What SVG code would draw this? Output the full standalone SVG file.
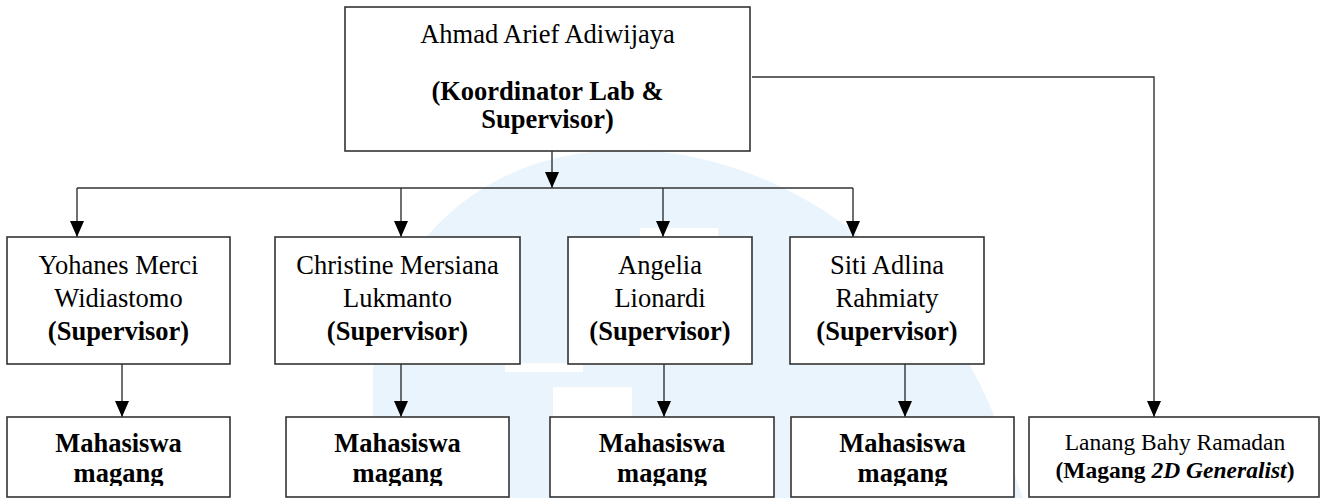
<svg xmlns="http://www.w3.org/2000/svg" width="1325" height="498" viewBox="0 0 1325 498">
<style>
.box{fill:#fff;stroke:#333;stroke-width:1.6}
.t{font-family:"Liberation Serif",serif;font-size:26.5px;fill:#000;text-anchor:middle}
.b{font-weight:700}
.s{font-size:23.5px}
.con{fill:none;stroke:#333;stroke-width:1.4}
</style>
<defs>
<marker id="arr" viewBox="0 0 16 14" refX="16" refY="7" markerWidth="16" markerHeight="14" orient="auto" markerUnits="userSpaceOnUse">
<path d="M0,0 L16,7 L0,14 Z" fill="#000"/>
</marker>
<clipPath id="clipM"><rect x="0" y="0" width="1325" height="486"/></clipPath>
</defs>
<rect width="1325" height="498" fill="#fff"/>
<g id="watermark">
<path d="M373,498 L373,373 C380,250 480,150 625,150 C780,150 930,260 993,413 L1023,498 Z" fill="#eaf4fd"/>
<rect x="640" y="228" width="78" height="10" fill="#fff"/>
<rect x="505" y="363" width="78" height="9" fill="#fff"/>
<rect x="553" y="387" width="79" height="30" fill="#fff"/>
</g>
<g id="connectors">
<line class="con" x1="552" y1="151" x2="552" y2="188" marker-end="url(#arr)"/>
<line class="con" x1="77" y1="188" x2="853" y2="188"/>
<line class="con" x1="77" y1="188" x2="77" y2="237" marker-end="url(#arr)"/>
<line class="con" x1="401" y1="188" x2="401" y2="237" marker-end="url(#arr)"/>
<line class="con" x1="663" y1="188" x2="663" y2="237" marker-end="url(#arr)"/>
<line class="con" x1="853" y1="188" x2="853" y2="237" marker-end="url(#arr)"/>
<line class="con" x1="122" y1="364" x2="122" y2="417" marker-end="url(#arr)"/>
<line class="con" x1="401" y1="364" x2="401" y2="417" marker-end="url(#arr)"/>
<line class="con" x1="664" y1="364" x2="664" y2="417" marker-end="url(#arr)"/>
<line class="con" x1="905" y1="364" x2="905" y2="417" marker-end="url(#arr)"/>
<polyline class="con" points="752,77 1154,77 1154,417" marker-end="url(#arr)"/>
</g>
<g id="node-ahmad">
<rect class="box" x="345" y="7" width="405" height="144"/>
<text class="t" x="547.5" y="43">Ahmad Arief Adiwijaya</text>
<text class="t b" x="547.5" y="100">(Koordinator Lab &amp;</text>
<text class="t b" x="547.5" y="128">Supervisor)</text>
</g>
<g id="node-yohanes">
<rect class="box" x="7" y="237" width="223" height="127"/>
<text class="t" x="118.5" y="274">Yohanes Merci</text>
<text class="t" x="118.5" y="307">Widiastomo</text>
<text class="t b" x="118.5" y="340">(Supervisor)</text>
</g>
<g id="node-christine">
<rect class="box" x="275" y="237" width="245" height="127"/>
<text class="t" x="397.5" y="274">Christine Mersiana</text>
<text class="t" x="397.5" y="307">Lukmanto</text>
<text class="t b" x="397.5" y="340">(Supervisor)</text>
</g>
<g id="node-angelia">
<rect class="box" x="568" y="237" width="184" height="127"/>
<text class="t" x="660" y="274">Angelia</text>
<text class="t" x="660" y="307">Lionardi</text>
<text class="t b" x="660" y="340">(Supervisor)</text>
</g>
<g id="node-siti">
<rect class="box" x="790" y="237" width="194" height="127"/>
<text class="t" x="887" y="274">Siti Adlina</text>
<text class="t" x="887" y="307">Rahmiaty</text>
<text class="t b" x="887" y="340">(Supervisor)</text>
</g>
<g id="node-mhs1">
<rect class="box" x="7" y="417" width="223" height="80"/>
<g clip-path="url(#clipM)">
<text class="t b" x="118.5" y="452">Mahasiswa</text>
<text class="t b" x="118.5" y="482">magang</text>
</g>
</g>
<g id="node-mhs2">
<rect class="box" x="286" y="417" width="223" height="80"/>
<g clip-path="url(#clipM)">
<text class="t b" x="397.5" y="452">Mahasiswa</text>
<text class="t b" x="397.5" y="482">magang</text>
</g>
</g>
<g id="node-mhs3">
<rect class="box" x="550" y="417" width="224" height="80"/>
<g clip-path="url(#clipM)">
<text class="t b" x="662" y="452">Mahasiswa</text>
<text class="t b" x="662" y="482">magang</text>
</g>
</g>
<g id="node-mhs4">
<rect class="box" x="791" y="417" width="223" height="80"/>
<g clip-path="url(#clipM)">
<text class="t b" x="902.5" y="452">Mahasiswa</text>
<text class="t b" x="902.5" y="482">magang</text>
</g>
</g>
<g id="node-lanang">
<rect class="box" x="1029" y="417" width="290" height="80"/>
<text class="t s" x="1175" y="450">Lanang Bahy Ramadan</text>
<text class="t s b" x="1175" y="478">(Magang <tspan font-style="italic">2D Generalist</tspan>)</text>
</g>
</svg>
